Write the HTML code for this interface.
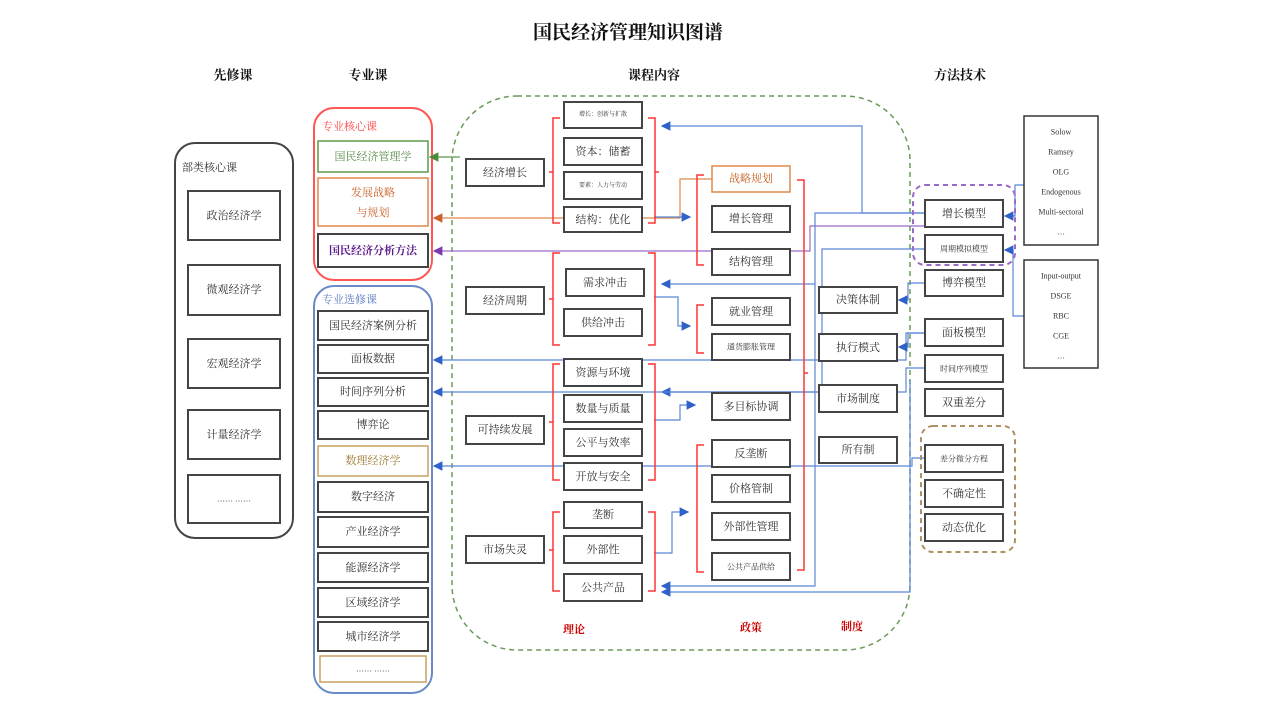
<!DOCTYPE html>
<html><head><meta charset="utf-8"><style>
html,body{margin:0;padding:0;background:#fff;}
svg{display:block;font-family:"Liberation Serif","Noto Serif CJK SC","Noto Sans CJK SC",serif;}
.b{fill:#fff;stroke:#444;stroke-width:2;}
.t{font-size:11px;fill:#333;text-anchor:middle;dominant-baseline:central;}
.s{font-size:8px;}
.h{font-size:13px;font-weight:bold;fill:#111;text-anchor:middle;dominant-baseline:central;}
.bl{stroke:#5b86d6;stroke-width:1.2;fill:none;}
.rb{stroke:#f33;stroke-width:1.5;fill:none;}
</style></head><body>
<svg width="1271" height="715" viewBox="0 0 1271 715" xmlns="http://www.w3.org/2000/svg">
<defs>
<marker id="ab" markerWidth="8" markerHeight="8" refX="7" refY="4" orient="auto"><path d="M0,0 L8,4 L0,8z" fill="#2e62c8"/></marker>
<marker id="ag" markerWidth="8" markerHeight="8" refX="7" refY="4" orient="auto"><path d="M0,0 L8,4 L0,8z" fill="#4a8a3a"/></marker>
<marker id="ao" markerWidth="8" markerHeight="8" refX="7" refY="4" orient="auto"><path d="M0,0 L8,4 L0,8z" fill="#c8642a"/></marker>
<marker id="ap" markerWidth="8" markerHeight="8" refX="7" refY="4" orient="auto"><path d="M0,0 L8,4 L0,8z" fill="#7a3ab0"/></marker>
</defs>
<rect x="0" y="0" width="1271" height="715" fill="#fff"/>
<text x="628" y="33" class="h" style="font-size:19px">国民经济管理知识图谱</text>
<text x="233" y="75" class="h">先修课</text>
<text x="368" y="75" class="h">专业课</text>
<text x="654" y="75" class="h">课程内容</text>
<text x="960" y="75" class="h">方法技术</text>

<!-- left group -->
<rect x="175" y="143" width="118" height="395" rx="20" fill="none" stroke="#444" stroke-width="2"/>
<text x="182" y="168" class="t" style="text-anchor:start">部类核心课</text>
<rect class="b" x="188" y="191" width="92" height="49"/><text class="t" x="234" y="216">政治经济学</text>
<rect class="b" x="188" y="265" width="92" height="50"/><text class="t" x="234" y="290">微观经济学</text>
<rect class="b" x="188" y="339" width="92" height="49"/><text class="t" x="234" y="364">宏观经济学</text>
<rect class="b" x="188" y="410" width="92" height="49"/><text class="t" x="234" y="435">计量经济学</text>
<rect class="b" x="188" y="475" width="92" height="48"/><text class="t s" x="234" y="499">…… ……</text>

<!-- core -->
<rect x="314" y="108" width="118" height="172" rx="20" fill="none" stroke="#f55" stroke-width="2"/>
<text x="322" y="127" class="t" style="text-anchor:start;fill:#f44">专业核心课</text>
<rect x="318" y="141" width="110" height="31" fill="#fff" stroke="#5a9a4a" stroke-width="1.5"/><text class="t" x="373" y="157" style="fill:#5a8a4a">国民经济管理学</text>
<rect x="318" y="178" width="110" height="48" fill="#fff" stroke="#e0884a" stroke-width="1.5"/><text class="t" x="373" y="193" style="fill:#c8642a">发展战略</text><text class="t" x="373" y="213" style="fill:#c8642a">与规划</text>
<rect class="b" x="318" y="234" width="110" height="33"/><text class="t" x="373" y="251" style="fill:#5a1a8a;font-weight:bold">国民经济分析方法</text>

<rect x="314" y="286" width="118" height="407" rx="20" fill="none" stroke="#6a8ac8" stroke-width="2"/>
<text x="322" y="300" class="t" style="text-anchor:start;fill:#5a7ac0">专业选修课</text>
<rect class="b" x="318" y="311" width="110" height="29"/><text class="t" x="373" y="326">国民经济案例分析</text>
<rect class="b" x="318" y="345" width="110" height="28"/><text class="t" x="373" y="359">面板数据</text>
<rect class="b" x="318" y="378" width="110" height="28"/><text class="t" x="373" y="392">时间序列分析</text>
<rect class="b" x="318" y="411" width="110" height="28"/><text class="t" x="373" y="425">博弈论</text>
<rect x="318" y="446" width="110" height="30" fill="#fff" stroke="#c8a060" stroke-width="1.5"/><text class="t" x="373" y="461" style="fill:#a07a30">数理经济学</text>
<rect class="b" x="318" y="482" width="110" height="30"/><text class="t" x="373" y="497">数字经济</text>
<rect class="b" x="318" y="517" width="110" height="30"/><text class="t" x="373" y="532">产业经济学</text>
<rect class="b" x="318" y="553" width="110" height="29"/><text class="t" x="373" y="568">能源经济学</text>
<rect class="b" x="318" y="588" width="110" height="29"/><text class="t" x="373" y="603">区域经济学</text>
<rect class="b" x="318" y="622" width="110" height="29"/><text class="t" x="373" y="637">城市经济学</text>
<rect x="320" y="656" width="106" height="26" fill="#fff" stroke="#c8a060" stroke-width="1.5"/><text class="t s" x="373" y="669">…… ……</text>

<!-- big green dashed -->
<rect x="452" y="96" width="458" height="554" rx="65" fill="none" stroke="#6a9a5a" stroke-width="1.5" stroke-dasharray="5,4"/>

<!-- connectors -->
<line x1="460" y1="157" x2="430" y2="157" stroke="#5a9a4a" stroke-width="1.2" marker-end="url(#ag)"/>
<path d="M712,179 L680,179 L680,218 L434,218" stroke="#e0884a" stroke-width="1.2" fill="none" marker-end="url(#ao)"/>
<path d="M925,226 L810,226 L810,251 L434,251" stroke="#9a6ac8" stroke-width="1.2" fill="none" marker-end="url(#ap)"/>
<path class="bl" d="M925,213 L862,213 L862,126 L662,126" marker-end="url(#ab)"/>
<path class="bl" d="M925,213 L815,213 L815,284 L662,284" marker-end="url(#ab)"/>
<path class="bl" d="M925,249 L822,249 L822,392 L662,392" marker-end="url(#ab)"/>
<path class="bl" d="M925,368 L906,368 L906,392 L434,392" marker-end="url(#ab)"/>
<path class="bl" d="M925,333 L906,333 L906,360 L434,360" marker-end="url(#ab)"/>
<path class="bl" d="M925,458 L912,458 L912,466 L434,466" marker-end="url(#ab)"/>
<path class="bl" d="M815,284 L815,586 L662,586" marker-end="url(#ab)"/>
<path class="bl" d="M910,380 L910,592 L662,592" marker-end="url(#ab)"/>
<path class="bl" d="M925,283 L908,283 L908,300 L899,300" marker-end="url(#ab)"/>
<path class="bl" d="M925,333 L908,333 L908,347 L899,347" marker-end="url(#ab)"/>
<path class="bl" d="M654,217 L690,217" marker-end="url(#ab)"/>
<path class="bl" d="M654,297 L678,297 L678,326 L690,326" marker-end="url(#ab)"/>
<path class="bl" d="M654,420 L680,420 L680,405 L695,405" marker-end="url(#ab)"/>
<path class="bl" d="M654,553 L672,553 L672,512 L688,512" marker-end="url(#ab)"/>
<path class="bl" d="M1024,185 L1015,185 L1015,216 L1005,216" marker-end="url(#ab)"/>
<path class="bl" d="M1024,316 L1013,316 L1013,250 L1005,250" marker-end="url(#ab)"/>

<!-- topic boxes -->
<rect class="b" x="466" y="159" width="78" height="27"/><text class="t" x="505" y="173">经济增长</text>
<rect class="b" x="466" y="287" width="78" height="27"/><text class="t" x="505" y="301">经济周期</text>
<rect class="b" x="466" y="416" width="78" height="28"/><text class="t" x="505" y="430">可持续发展</text>
<rect class="b" x="466" y="536" width="78" height="27"/><text class="t" x="505" y="550">市场失灵</text>

<!-- braces -->
<path class="rb" d="M560,118 L553,118 L553,223 L560,223 M553,172 L549,172"/>
<path class="rb" d="M648,118 L655,118 L655,223 L648,223 M655,172 L659,172"/>
<path class="rb" d="M560,253 L553,253 L553,345 L560,345 M553,299 L549,299"/>
<path class="rb" d="M648,253 L655,253 L655,345 L648,345"/>
<path class="rb" d="M560,364 L553,364 L553,480 L560,480 M553,422 L549,422"/>
<path class="rb" d="M648,364 L655,364 L655,480 L648,480"/>
<path class="rb" d="M560,512 L553,512 L553,591 L560,591 M553,550 L549,550"/>
<path class="rb" d="M648,512 L655,512 L655,591 L648,591"/>
<path class="rb" d="M704,175 L697,175 L697,265 L704,265"/>
<path class="rb" d="M704,305 L697,305 L697,353 L704,353"/>
<path class="rb" d="M704,445 L697,445 L697,572 L704,572"/>
<path class="rb" d="M797,180 L804,180 L804,570 L797,570 M804,373 L808,373"/>

<!-- theory boxes -->
<rect class="b" x="564" y="102" width="78" height="26"/><text class="t" x="603" y="115" style="font-size:6px">增长：创新与扩散</text>
<rect class="b" x="564" y="138" width="78" height="27"/><text class="t" x="603" y="152">资本：储蓄</text>
<rect class="b" x="564" y="172" width="78" height="27"/><text class="t" x="603" y="186" style="font-size:6px">要素：人力与劳动</text>
<rect class="b" x="564" y="207" width="78" height="25"/><text class="t" x="603" y="220">结构：优化</text>
<rect class="b" x="566" y="269" width="78" height="27"/><text class="t" x="605" y="283">需求冲击</text>
<rect class="b" x="564" y="309" width="78" height="27"/><text class="t" x="603" y="323">供给冲击</text>
<rect class="b" x="564" y="359" width="78" height="27"/><text class="t" x="603" y="373">资源与环境</text>
<rect class="b" x="564" y="395" width="78" height="27"/><text class="t" x="603" y="409">数量与质量</text>
<rect class="b" x="564" y="429" width="78" height="27"/><text class="t" x="603" y="443">公平与效率</text>
<rect class="b" x="564" y="463" width="78" height="27"/><text class="t" x="603" y="477">开放与安全</text>
<rect class="b" x="564" y="502" width="78" height="26"/><text class="t" x="603" y="515">垄断</text>
<rect class="b" x="564" y="536" width="78" height="27"/><text class="t" x="603" y="550">外部性</text>
<rect class="b" x="564" y="574" width="78" height="27"/><text class="t" x="603" y="588">公共产品</text>

<!-- policy boxes -->
<rect x="712" y="166" width="78" height="26" fill="#fff" stroke="#e0884a" stroke-width="1.5"/><text class="t" x="751" y="179" style="fill:#c8642a">战略规划</text>
<rect class="b" x="712" y="206" width="78" height="26"/><text class="t" x="751" y="219">增长管理</text>
<rect class="b" x="712" y="249" width="78" height="26"/><text class="t" x="751" y="262">结构管理</text>
<rect class="b" x="712" y="298" width="78" height="27"/><text class="t" x="751" y="312">就业管理</text>
<rect class="b" x="712" y="334" width="78" height="26"/><text class="t" x="751" y="347" style="font-size:8px">通货膨胀管理</text>
<rect class="b" x="712" y="393" width="78" height="27"/><text class="t" x="751" y="407">多目标协调</text>
<rect class="b" x="712" y="440" width="78" height="27"/><text class="t" x="751" y="454">反垄断</text>
<rect class="b" x="712" y="475" width="78" height="27"/><text class="t" x="751" y="489">价格管制</text>
<rect class="b" x="712" y="513" width="78" height="27"/><text class="t" x="751" y="527">外部性管理</text>
<rect class="b" x="712" y="553" width="78" height="27"/><text class="t" x="751" y="567" style="font-size:8px">公共产品供给</text>

<!-- institution -->
<rect class="b" x="819" y="287" width="78" height="26"/><text class="t" x="858" y="300">决策体制</text>
<rect class="b" x="819" y="334" width="78" height="27"/><text class="t" x="858" y="348">执行模式</text>
<rect class="b" x="819" y="385" width="78" height="27"/><text class="t" x="858" y="399">市场制度</text>
<rect class="b" x="819" y="437" width="78" height="26"/><text class="t" x="858" y="450">所有制</text>

<!-- methods -->
<rect x="913" y="185" width="102" height="80" rx="12" fill="none" stroke="#9a6ac8" stroke-width="2" stroke-dasharray="5,4"/>
<rect x="921" y="426" width="94" height="126" rx="12" fill="none" stroke="#b09060" stroke-width="2" stroke-dasharray="5,4"/>
<rect class="b" x="925" y="200" width="78" height="27"/><text class="t" x="964" y="214">增长模型</text>
<rect class="b" x="925" y="235" width="78" height="27"/><text class="t" x="964" y="249" style="font-size:8px">周期模拟模型</text>
<rect class="b" x="925" y="270" width="78" height="26"/><text class="t" x="964" y="283">博弈模型</text>
<rect class="b" x="925" y="319" width="78" height="27"/><text class="t" x="964" y="333">面板模型</text>
<rect class="b" x="925" y="355" width="78" height="27"/><text class="t" x="964" y="369" style="font-size:8px">时间序列模型</text>
<rect class="b" x="925" y="389" width="78" height="27"/><text class="t" x="964" y="403">双重差分</text>
<rect class="b" x="925" y="445" width="78" height="27"/><text class="t" x="964" y="459" style="font-size:8px">差分微分方程</text>
<rect class="b" x="925" y="480" width="78" height="27"/><text class="t" x="964" y="494">不确定性</text>
<rect class="b" x="925" y="514" width="78" height="27"/><text class="t" x="964" y="528">动态优化</text>

<rect x="1024" y="116" width="74" height="129" fill="#fff" stroke="#333" stroke-width="1.5"/>
<g class="t" style="font-size:8px">
<text x="1061" y="132">Solow</text><text x="1061" y="152">Ramsey</text><text x="1061" y="172">OLG</text><text x="1061" y="192">Endogenous</text><text x="1061" y="212">Multi-sectoral</text><text x="1061" y="232">…</text>
</g>
<rect x="1024" y="260" width="74" height="108" fill="#fff" stroke="#333" stroke-width="1.5"/>
<g class="t" style="font-size:8px">
<text x="1061" y="276">Input-output</text><text x="1061" y="296">DSGE</text><text x="1061" y="316">RBC</text><text x="1061" y="336">CGE</text><text x="1061" y="356">…</text>
</g>

<text x="574" y="630" class="t" style="fill:#c00;font-weight:bold">理论</text>
<text x="751" y="628" class="t" style="fill:#c00;font-weight:bold">政策</text>
<text x="852" y="627" class="t" style="fill:#c00;font-weight:bold">制度</text>
</svg>
</body></html>
